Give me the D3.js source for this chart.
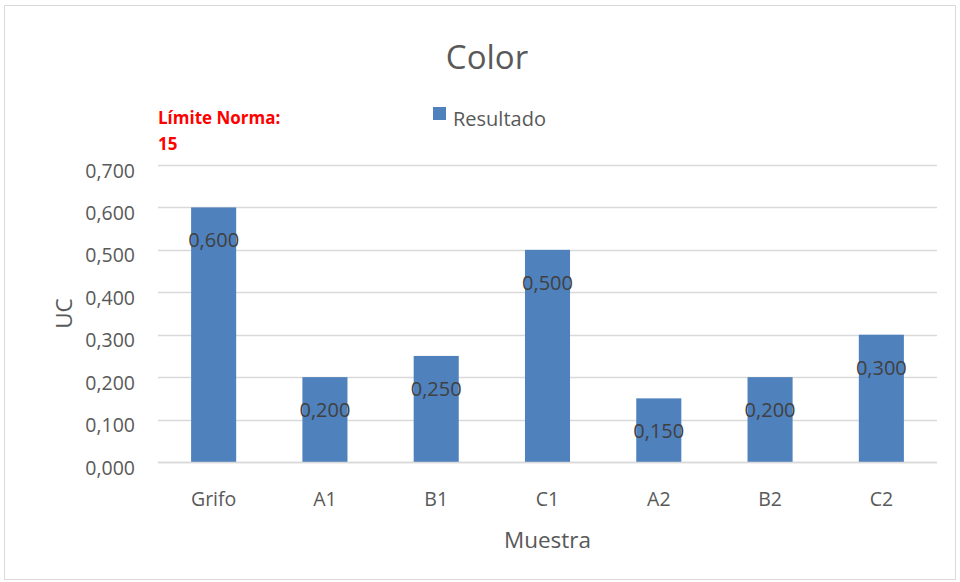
<!DOCTYPE html>
<html>
<head>
<meta charset="utf-8">
<script src="https://cdn.jsdelivr.net/npm/d3@7"></script>
<style>
  html, body { margin: 0; padding: 0; background: #fff; }
  svg { display: block; }
  svg text { font-family: "Open Sans", "Noto Sans", sans-serif; }
</style>
</head>
<body>
<svg id="chart" width="960" height="582"></svg>
<script>
// Color measurements per sample (UC)
const categories = ["Grifo", "A1", "B1", "C1", "A2", "B2", "C2"];
const values = [0.600, 0.200, 0.250, 0.500, 0.150, 0.200, 0.300];
const yTicks = [0, 0.1, 0.2, 0.3, 0.4, 0.5, 0.6, 0.7];
const seriesName = "Resultado";
const chartTitle = "Color";
const xTitle = "Muestra";
const yTitle = "UC";
const limitLines = ["Límite Norma:", "15"];

const svg = d3.select("#chart");
const plot = { left: 158, right: 937, top: 165, bottom: 462 };
const barColor = "#4f81bd";
const textColor = "#595959";
const gridColor = "#d9d9d9";
const fmt = v => d3.format(".3f")(v).replace(".", ",");

// outer chart frame
svg.append("rect")
  .attr("x", 4.5).attr("y", 5.5)
  .attr("width", 951).attr("height", 574)
  .attr("fill", "#fff").attr("stroke", "#d9d9d9").attr("stroke-width", 1);

const x = d3.scaleBand().domain(categories).range([plot.left, plot.right]).padding(0);
const y = d3.scaleLinear().domain([0, 0.7]).range([plot.bottom, plot.top]);

// horizontal gridlines
svg.append("g")
  .selectAll("line")
  .data(yTicks)
  .join("line")
  .attr("x1", plot.left).attr("x2", plot.right)
  .attr("y1", d => Math.round(y(d)) + 0.5).attr("y2", d => Math.round(y(d)) + 0.5)
  .attr("stroke", gridColor).attr("stroke-width", 1.3);

// y axis tick labels (sit slightly below their gridline)
const yAxis = d3.axisLeft(y).tickValues(yTicks).tickFormat(fmt).tickSize(0).tickPadding(0);
const yg = svg.append("g").attr("transform", `translate(${plot.left - 23},5)`).call(yAxis);
yg.attr("font-family", null).attr("font-size", null);
yg.select(".domain").remove();
yg.selectAll("text")
  .attr("fill", textColor).style("font-size", "19.5px")
  .attr("dy", "0.36em");

// bars
const barW = x.bandwidth() * 0.405;
svg.append("g")
  .selectAll("rect")
  .data(values)
  .join("rect")
  .attr("x", (d, i) => x(categories[i]) + x.bandwidth() / 2 - barW / 2)
  .attr("y", d => y(d))
  .attr("width", barW)
  .attr("height", d => y(0) - y(d))
  .attr("fill", barColor);

// bottom axis line
svg.append("line")
  .attr("x1", plot.left).attr("x2", plot.right)
  .attr("y1", plot.bottom + 0.5).attr("y2", plot.bottom + 0.5)
  .attr("stroke", gridColor).attr("stroke-width", 1.3);

// x axis category labels
const xAxis = d3.axisBottom(x).tickSize(0).tickPadding(0);
const xg = svg.append("g").attr("transform", `translate(0,${plot.bottom})`).call(xAxis);
xg.attr("font-family", null).attr("font-size", null);
xg.select(".domain").remove();
xg.selectAll("text")
  .attr("fill", textColor).style("font-size", "19.5px")
  .attr("y", 44).attr("dy", 0);

// value labels
svg.append("g")
  .selectAll("text")
  .data(values)
  .join("text")
  .attr("x", (d, i) => x(categories[i]) + x.bandwidth() / 2)
  .attr("y", d => y(d) + 40)
  .attr("text-anchor", "middle")
  .attr("fill", "#404040")
  .style("font-size", "20px")
  .text(fmt);

// title
svg.append("text")
  .attr("x", 487).attr("y", 69)
  .attr("text-anchor", "middle")
  .attr("fill", textColor)
  .style("font-size", "33px")
  .text(chartTitle);

// axis titles
svg.append("text")
  .attr("x", (plot.left + plot.right) / 2).attr("y", 548)
  .attr("text-anchor", "middle")
  .attr("fill", textColor).style("font-size", "22.5px")
  .text(xTitle);

svg.append("text")
  .attr("transform", `translate(72,${(plot.top + plot.bottom) / 2}) rotate(-90)`)
  .attr("text-anchor", "middle")
  .attr("fill", textColor).style("font-size", "22.5px")
  .text(yTitle);

// legend
const lg = svg.append("g").attr("transform", "translate(433,107)");
lg.append("rect").attr("width", 13).attr("height", 13).attr("fill", barColor);
lg.append("text").attr("x", 20).attr("y", 19)
  .attr("fill", textColor).style("font-size", "20px").text(seriesName);

// limit annotation
svg.append("g")
  .selectAll("text")
  .data(limitLines)
  .join("text")
  .attr("x", 158)
  .attr("y", (d, i) => 124 + i * 26)
  .attr("fill", "#ff0000")
  .style("font-size", "17px")
  .style("font-weight", "bold")
  .text(d => d);
</script>
</body>
</html>
